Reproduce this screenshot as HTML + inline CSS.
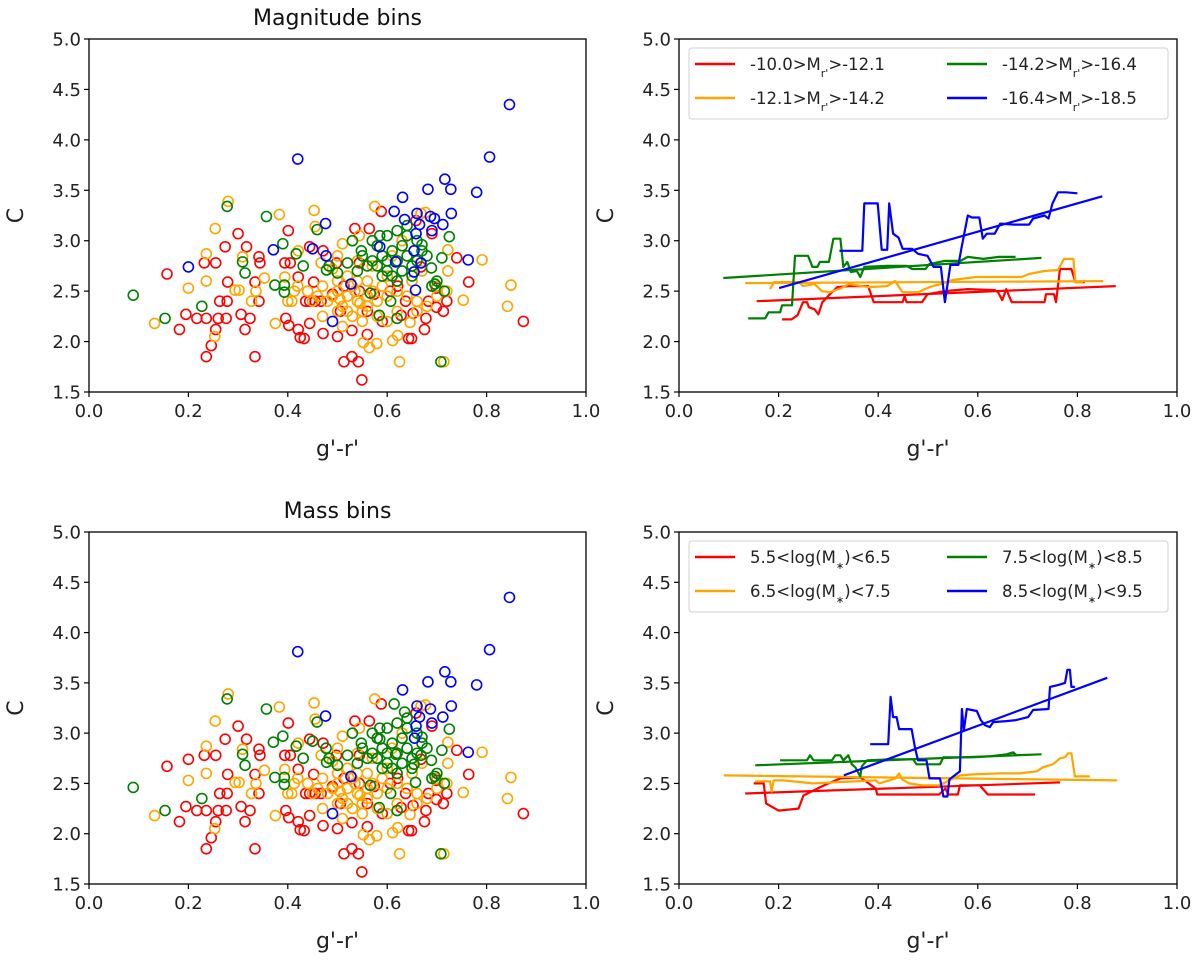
<!DOCTYPE html>
<html><head><meta charset="utf-8"><style>
html,body{margin:0;padding:0;background:#fff;}
svg{display:block;font-family:"DejaVu Sans","Liberation Sans",sans-serif;}
</style></head><body>
<svg id="fig" width="1200" height="961" viewBox="0 0 1200 961" xmlns="http://www.w3.org/2000/svg"></svg>
<script>
// ---------- DATA ----------
const xTicks = [0.0,0.2,0.4,0.6,0.8,1.0];
const yTicks = [1.5,2.0,2.5,3.0,3.5,4.0,4.5,5.0];
const magBlueX = [.846,.806,.42,.716,.728,.682,.78,.631,.729,.614,.66,.687,.695,.635,.476,.712,.665,.69,.658,.585,.371,.45,.477,.654,.763,.617,.668,.2,.654,.527,.657,.49];
const magBlueY = [4.35,3.83,3.81,3.61,3.51,3.51,3.48,3.43,3.27,3.29,3.27,3.24,3.22,3.21,3.17,3.16,3.16,3.1,3.07,2.94,2.91,2.92,2.85,2.9,2.81,2.79,2.78,2.74,2.69,2.57,2.51,2.2];
const magGreenX = [.089,.153,.227,.278,.357,.39,.309,.314,.417,.431,.459,.374,.393,.393,.478,.483,.53,.548,.566,.584,.607,.62,.708,.715,.71,.725,.67,.689,.696,.57,.58,.59,.6,.61,.62,.63,.64,.65,.66,.67,.58,.6,.62,.64,.59,.61,.63,.65,.56,.55,.54,.6,.62,.64,.66,.68,.57,.585,.5,.52,.69,.7];
const magGreenY = [2.46,2.23,2.35,3.34,3.24,2.97,2.79,2.68,2.87,2.75,3.11,2.56,2.56,2.49,2.71,2.75,3.0,2.9,2.48,2.26,2.4,2.23,1.8,2.5,2.83,3.04,2.96,2.73,2.57,2.8,2.75,2.85,2.7,2.9,2.8,2.95,2.85,2.75,3.0,2.9,2.95,3.05,3.1,3.05,2.65,2.65,2.7,2.65,2.75,2.85,2.7,2.8,2.6,3.15,2.8,2.85,3.0,3.05,2.68,2.78,2.55,2.6];
const magRedX = [.157,.182,.195,.217,.236,.236,.246,.255,.232,.255,.274,.279,.276,.26,.263,.278,.3,.306,.314,.317,.324,.334,.342,.344,.342,.334,.401,.394,.405,.396,.402,.421,.425,.433,.444,.444,.471,.471,.5,.513,.529,.542,.549,.535,.564,.588,.643,.649,.675,.678,.713,.72,.74,.764,.874,.69,.658,.628,.529,.56,.59,.574,.506,.436,.444,.455,.467,.498,.544,.513,.606,.652,.683,.699,.621,.637,.56,.544,.452,.421,.49,.668,.699];
const magRedY = [2.67,2.12,2.27,2.23,2.23,1.85,1.96,2.12,2.78,2.78,2.94,2.59,2.23,2.23,2.4,2.4,3.07,2.27,2.12,2.94,2.23,1.85,2.84,2.78,2.4,2.59,3.1,2.78,2.78,2.23,2.16,2.12,2.04,2.03,2.18,2.94,2.9,2.08,2.05,1.8,1.85,1.8,1.62,3.12,3.12,3.29,2.03,2.03,2.12,2.23,2.3,2.4,2.83,2.59,2.2,3.07,3.2,2.26,2.11,2.07,2.2,2.47,2.3,2.4,2.4,2.4,2.4,2.78,2.78,2.55,2.5,2.28,2.4,2.53,2.55,2.4,2.3,2.5,2.59,2.64,2.47,2.74,2.34];
const magOrangeX = [.132,.2,.236,.236,.254,.28,.253,.294,.302,.309,.327,.336,.353,.375,.383,.394,.408,.413,.421,.453,.455,.467,.51,.544,.575,.625,.714,.611,.621,.564,.579,.552,.646,.722,.722,.791,.849,.842,.753,.668,.677,.48,.49,.5,.51,.52,.53,.54,.55,.56,.57,.58,.59,.5,.52,.54,.56,.47,.46,.6,.62,.64,.66,.68,.7,.72,.65,.67,.55,.53,.51,.58,.6,.62,.7,.45,.44,.4,.42,.6,.61,.58,.63,.5,.54,.57,.66,.52,.49,.56,.535,.545,.505,.5,.47];
const magOrangeY = [2.18,2.53,2.6,2.87,3.12,3.39,2.05,2.51,2.51,2.84,2.4,2.5,2.63,2.18,3.26,2.64,2.4,2.5,2.9,3.3,3.14,2.78,2.97,3.05,3.34,1.8,1.8,2.01,2.06,1.94,1.98,1.99,2.19,2.7,2.91,2.81,2.56,2.35,2.41,3.27,3.28,2.4,2.45,2.5,2.35,2.45,2.55,2.4,2.3,2.45,2.5,2.4,2.55,2.6,2.3,2.6,2.6,2.55,2.45,2.45,2.5,2.45,2.4,2.35,2.45,2.5,2.6,2.7,2.2,2.25,2.15,2.25,2.2,2.3,2.55,2.4,2.5,2.4,2.55,2.65,2.85,2.95,3.0,2.85,2.8,2.75,2.3,2.65,2.72,2.35,2.5,2.38,2.42,2.3,2.25];
const massBlueX = [.846,.806,.42,.716,.728,.682,.78,.631,.729,.66,.687,.476,.712,.665,.69,.658,.763,.527,.49,.655];
const massBlueY = [4.35,3.83,3.81,3.61,3.51,3.51,3.48,3.43,3.27,3.27,3.24,3.17,3.16,3.16,3.1,3.07,2.81,2.57,2.2,2.95];
const massGreenX = magGreenX.concat([.614,.635,.585,.617,.668,.654,.657,.45,.371,.477]);
const massGreenY = magGreenY.concat([3.29,3.21,2.94,2.79,2.78,2.69,2.51,2.92,2.91,2.85]);
const massRedX = magRedX.concat([.2]);
const massRedY = magRedY.concat([2.74]);
const massOrangeX = magOrangeX;
const massOrangeY = magOrangeY;

const magRedMedX = [.207,.226,.238,.249,.257,.261,.272,.28,.288,.303,.318,.341,.38,.391,.449,.453,.457,.488,.499,.534,.58,.634,.641,.649,.657,.668,.734,.737,.753,.757,.765,.788,.796,.815];
const magRedMedY = [2.22,2.22,2.26,2.39,2.39,2.34,2.32,2.27,2.39,2.47,2.54,2.55,2.55,2.39,2.39,2.45,2.39,2.39,2.47,2.5,2.52,2.51,2.49,2.41,2.52,2.39,2.39,2.47,2.47,2.39,2.72,2.72,2.59,2.59];
const magOrangeMedX = [.183,.191,.241,.249,.272,.287,.303,.326,.341,.38,.418,.434,.449,.48,.503,.526,.549,.596,.649,.688,.703,.734,.761,.773,.792,.796,.811];
const magOrangeMedY = [2.52,2.59,2.59,2.55,2.57,2.5,2.49,2.53,2.57,2.54,2.55,2.6,2.49,2.49,2.54,2.57,2.61,2.64,2.64,2.64,2.67,2.7,2.71,2.82,2.82,2.59,2.59];
const magGreenMedX = [.139,.173,.18,.203,.207,.227,.233,.259,.268,.278,.283,.301,.31,.324,.33,.338,.345,.357,.364,.372,.418,.457,.468,.495,.503,.534,.565,.58,.611,.642,.676];
const magGreenMedY = [2.23,2.23,2.29,2.29,2.36,2.36,2.85,2.85,2.74,2.74,2.79,2.79,3.02,3.02,2.74,2.79,2.69,2.70,2.64,2.74,2.75,2.75,2.72,2.72,2.77,2.8,2.8,2.84,2.82,2.84,2.84];
const magBlueMedX = [.322,.368,.372,.399,.407,.418,.422,.43,.441,.449,.468,.48,.499,.511,.526,.534,.545,.561,.568,.58,.588,.603,.61,.618,.634,.645,.673,.703,.711,.734,.742,.75,.761,.777,.8];
const magBlueMedY = [2.9,2.9,3.37,3.37,2.91,2.91,3.37,3.07,3.03,2.92,2.92,2.87,2.85,2.74,2.74,2.39,2.76,2.76,2.95,3.25,3.23,3.23,3.02,3.07,3.07,3.17,3.16,3.16,3.22,3.25,3.22,3.37,3.48,3.48,3.47];
const magFitX0 = [.156,.133,.089,.201];
const magFitX1 = [.877,.852,.728,.85];
const magFitY0 = [2.40,2.58,2.63,2.53];
const magFitY1 = [2.55,2.60,2.83,3.44];

const massRedMedX = [.15,.17,.175,.2,.24,.25,.287,.3,.324,.364,.395,.398,.522,.535,.541,.56,.564,.604,.62,.715];
const massRedMedY = [2.5,2.5,2.3,2.23,2.25,2.38,2.47,2.5,2.55,2.56,2.45,2.39,2.39,2.45,2.39,2.39,2.48,2.48,2.39,2.39];
const massOrangeMedX = [.153,.183,.186,.19,.21,.268,.395,.402,.435,.442,.448,.462,.489,.522,.564,.591,.644,.684,.718,.731,.751,.765,.775,.781,.788,.795,.825];
const massOrangeMedY = [2.52,2.52,2.42,2.53,2.53,2.5,2.53,2.5,2.55,2.6,2.54,2.5,2.48,2.48,2.58,2.59,2.6,2.6,2.62,2.66,2.69,2.75,2.76,2.8,2.8,2.57,2.57];
const massGreenMedX = [.203,.257,.263,.27,.307,.314,.324,.33,.34,.347,.354,.364,.367,.378,.424,.47,.477,.524,.531,.551,.591,.624,.658,.671,.678];
const massGreenMedY = [2.73,2.73,2.78,2.73,2.73,2.78,2.78,2.73,2.78,2.69,2.66,2.57,2.67,2.73,2.74,2.74,2.69,2.69,2.76,2.76,2.76,2.77,2.79,2.81,2.78];
const massBlueMedX = [.384,.42,.425,.43,.437,.442,.467,.474,.48,.497,.503,.524,.531,.539,.543,.564,.568,.572,.578,.598,.606,.614,.624,.631,.657,.677,.701,.711,.742,.745,.762,.775,.78,.785,.788,.795];
const massBlueMedY = [2.89,2.89,3.36,3.16,3.16,3.04,3.04,2.85,2.73,2.73,2.55,2.55,2.37,2.37,2.54,2.62,3.24,3.03,3.24,3.22,3.13,3.08,3.06,3.11,3.12,3.13,3.16,3.23,3.24,3.46,3.48,3.5,3.63,3.63,3.46,3.46];
const massFitX0 = [.133,.09,.153,.331];
const massFitX1 = [.765,.88,.728,.86];
const massFitY0 = [2.40,2.58,2.68,2.58];
const massFitY1 = [2.51,2.53,2.79,3.55];

const colors = ['#ff0000','#ffa500','#008000','#0000ff'];
const magLabels = ['-10.0&gt;M<tspan baseline-shift="sub" font-size="11">r\'</tspan>&gt;-12.1','-12.1&gt;M<tspan baseline-shift="sub" font-size="11">r\'</tspan>&gt;-14.2','-14.2&gt;M<tspan baseline-shift="sub" font-size="11">r\'</tspan>&gt;-16.4','-16.4&gt;M<tspan baseline-shift="sub" font-size="11">r\'</tspan>&gt;-18.5'];
const massLabels = ['5.5&lt;log(M<tspan baseline-shift="sub" font-size="10">∗</tspan>)&lt;6.5','6.5&lt;log(M<tspan baseline-shift="sub" font-size="10">∗</tspan>)&lt;7.5','7.5&lt;log(M<tspan baseline-shift="sub" font-size="10">∗</tspan>)&lt;8.5','8.5&lt;log(M<tspan baseline-shift="sub" font-size="10">∗</tspan>)&lt;9.5'];

// ---------- DRAW ----------
const NS='http://www.w3.org/2000/svg';
const svg=document.getElementById('fig');
function mk(tag,attrs,parent){const e=document.createElementNS(NS,tag);for(const k in attrs)e.setAttribute(k,attrs[k]);(parent||svg).appendChild(e);return e;}

function panel(L,R,T,B,name,title){
  const g=mk('g',{});
  
  
  const sx=v=>L+(v-0)/(1-0)*(R-L);
  const sy=v=>B-(v-1.5)/(5-1.5)*(B-T);
  xTicks.forEach(t=>{
    const x=sx(t);
    mk('line',{x1:x,x2:x,y1:B,y2:B+5,stroke:'#000','stroke-width':1.2},g);
    const tx=mk('text',{x:x,y:B+25,'font-size':18,'text-anchor':'middle',fill:'#222'},g);
    tx.textContent=t.toFixed(1);
    
    
  });
  yTicks.forEach(t=>{
    const y=sy(t);
    mk('line',{x1:L-5,x2:L,y1:y,y2:y,stroke:'#000','stroke-width':1.2},g);
    const tx=mk('text',{x:L-8,y:y+6.5,'font-size':18,'text-anchor':'end',fill:'#222'},g);
    tx.textContent=t.toFixed(1);
    
    
  });
  const xl=mk('text',{x:(L+R)/2,y:B+64,'font-size':22,'text-anchor':'middle',fill:'#222'},g);
  xl.textContent="g'-r'";
  
  
  const yl=mk('text',{x:0,y:0,'font-size':22,'text-anchor':'middle',fill:'#222',transform:`translate(${L-66},${(T+B)/2}) rotate(-90)`},g);
  yl.textContent='C';
  
  
  if(title){
    const tt=mk('text',{x:(L+R)/2,y:T-14,'font-size':22,'text-anchor':'middle',fill:'#111'},g);
    tt.textContent=title;
    
    
  }
  const plot=mk('g',{},g);
  return {g,plot,sx,sy,L,R,T,B};
}
function frame(p){
  const f=mk('rect',{x:p.L,y:p.T,width:p.R-p.L,height:p.B-p.T,fill:'none',stroke:'#000','stroke-width':1.3},p.g);
  
  
}
function scatter(p,xs,ys,color,nm){
  xs.forEach((x,i)=>{
    const c=mk('circle',{cx:p.sx(x),cy:p.sy(ys[i]),r:5,fill:'none',stroke:color,'stroke-width':1.6},p.plot);
    
    
  });
}
function line(p,xs,ys,color,nm){
  const d=xs.map((x,i)=>(i?'L':'M')+p.sx(x).toFixed(1)+' '+p.sy(ys[i]).toFixed(1)).join(' ');
  const e=mk('path',{d:d,fill:'none',stroke:color,'stroke-width':2.2,'stroke-linejoin':'round'},p.plot);
  
  
}
function legend(p,labels){
  const lg=mk('g',{},p.g);
  
  
  mk('rect',{x:p.L+10,y:p.T+9,width:479,height:71,rx:3,fill:'#fff','fill-opacity':0.85,stroke:'#d0d0d0','stroke-width':1},lg);
  const pos=[[0,0],[0,1],[1,0],[1,1]];
  labels.forEach((lab,i)=>{
    const cx=p.L+16+pos[i][0]*252, cy=p.T+25+pos[i][1]*34;
    const ent=mk('g',{},lg);
    
    
    mk('line',{x1:cx,x2:cx+40,y1:cy,y2:cy,stroke:colors[i],'stroke-width':2.5},ent);
    const t=mk('text',{x:cx+55,y:cy+6,'font-size':16.5,fill:'#222'},ent);
    t.innerHTML=lab;
  });
}

const p1=panel(89,586,39,392,'magnitude-scatter-panel','Magnitude bins');
scatter(p1,magRedX,magRedY,colors[0],'point-red');
scatter(p1,magOrangeX,magOrangeY,colors[1],'point-orange');
scatter(p1,magGreenX,magGreenY,colors[2],'point-green');
scatter(p1,magBlueX,magBlueY,colors[3],'point-blue');
frame(p1);
const p3=panel(89,586,532,884,'mass-scatter-panel','Mass bins');
scatter(p3,massRedX,massRedY,colors[0],'point-red');
scatter(p3,massOrangeX,massOrangeY,colors[1],'point-orange');
scatter(p3,massGreenX,massGreenY,colors[2],'point-green');
scatter(p3,massBlueX,massBlueY,colors[3],'point-blue');
frame(p3);
const p2=panel(679,1177,39,392,'magnitude-trend-panel',null);
[[magRedMedX,magRedMedY],[magOrangeMedX,magOrangeMedY],[magGreenMedX,magGreenMedY],[magBlueMedX,magBlueMedY]].forEach((s,i)=>{
  line(p2,s[0],s[1],colors[i],'running-median-line');
  line(p2,[magFitX0[i],magFitX1[i]],[magFitY0[i],magFitY1[i]],colors[i],'linear-fit-line');
});
legend(p2,magLabels);
frame(p2);
const p4=panel(679,1177,532,884,'mass-trend-panel',null);
[[massRedMedX,massRedMedY],[massOrangeMedX,massOrangeMedY],[massGreenMedX,massGreenMedY],[massBlueMedX,massBlueMedY]].forEach((s,i)=>{
  line(p4,s[0],s[1],colors[i],'running-median-line');
  line(p4,[massFitX0[i],massFitX1[i]],[massFitY0[i],massFitY1[i]],colors[i],'linear-fit-line');
});
legend(p4,massLabels);
frame(p4);
</script>
</body></html>
